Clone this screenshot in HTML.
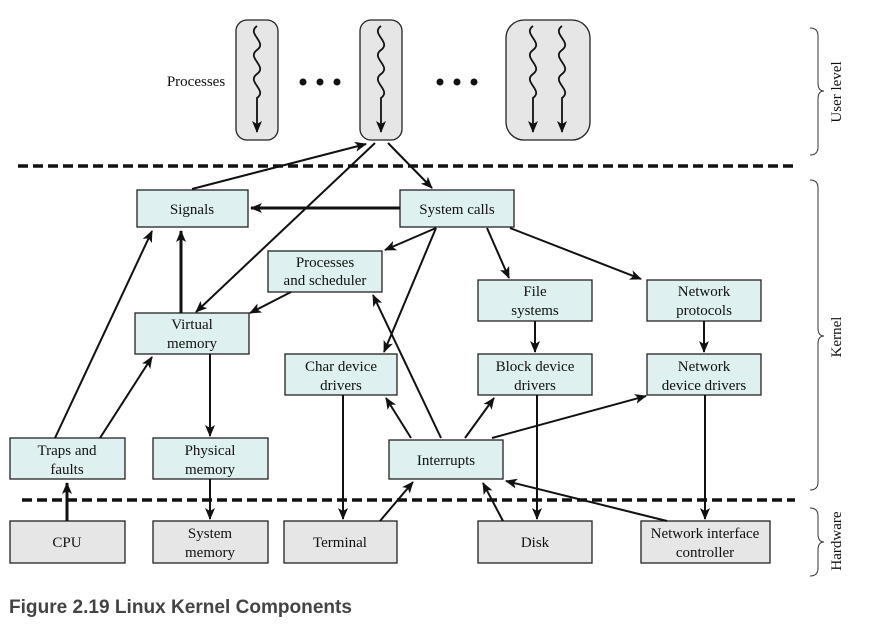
<!DOCTYPE html>
<html><head><meta charset="utf-8"><style>
body{margin:0;background:#fff;width:870px;height:631px;overflow:hidden}
svg{display:block}
.k{fill:#dff0f0;stroke:#222;stroke-width:1.3}
.h{fill:#e6e6e6;stroke:#222;stroke-width:1.3}
text{font-family:"Liberation Serif",serif;font-size:15px;fill:#111;text-anchor:middle}
.a{stroke:#111;stroke-width:2;fill:none;marker-end:url(#ar)}
.t{stroke:#111;stroke-width:3;fill:none;marker-end:url(#ar)}
</style></head><body>
<svg width="870" height="631" viewBox="0 0 870 631">
<defs><marker id="ar" markerWidth="12" markerHeight="10" refX="11" refY="5" orient="auto" markerUnits="userSpaceOnUse"><path d="M0,0 L12,5 L0,10 L3,5 z" fill="#111"/></marker></defs>
<!-- processes -->
<rect x="236" y="20" width="42" height="120" rx="11" class="h"/>
<rect x="360" y="20" width="42" height="120" rx="11" class="h"/>
<rect x="506" y="20" width="84" height="120" rx="18" class="h"/>
<g stroke="#111" stroke-width="1.8" fill="none">
<path d="M257,26 c-11,8 11,16 0,24 c-11,8 11,16 0,24 c-11,8 11,16 0,24 v34" marker-end="url(#ar)"/>
<path d="M381,26 c-11,8 11,16 0,24 c-11,8 11,16 0,24 c-11,8 11,16 0,24 v34" marker-end="url(#ar)"/>
<path d="M533,26 c-11,8 11,16 0,24 c-11,8 11,16 0,24 c-11,8 11,16 0,24 v34" marker-end="url(#ar)"/>
<path d="M562,26 c-11,8 11,16 0,24 c-11,8 11,16 0,24 c-11,8 11,16 0,24 v34" marker-end="url(#ar)"/>
</g>
<text x="196" y="86">Processes</text>
<g fill="#111"><circle cx="303" cy="82" r="3.5"/><circle cx="320" cy="82" r="3.5"/><circle cx="337" cy="82" r="3.5"/>
<circle cx="440" cy="82" r="3.5"/><circle cx="457" cy="82" r="3.5"/><circle cx="474" cy="82" r="3.5"/></g>
<!-- dashed -->
<line x1="18" y1="166" x2="795" y2="166" stroke="#111" stroke-width="3.5" stroke-dasharray="10,5"/>
<line x1="22" y1="500" x2="795" y2="500" stroke="#111" stroke-width="3.5" stroke-dasharray="10,5"/>
<!-- braces -->
<g stroke="#333" stroke-width="1" fill="none">
<path d="M810,28 q8,0 8,8 v47 q0,8 6,8 q-6,0 -6,8 v48 q0,8 -8,8"/>
<path d="M810,180 q8,0 8,8 v140 q0,8 6,8 q-6,0 -6,8 v138 q0,8 -8,8"/>
<path d="M810,508 q8,0 8,8 v18 q0,8 6,8 q-6,0 -6,8 v18 q0,8 -8,8"/>
</g>
<text transform="translate(841,92) rotate(-90)" font-size="15">User level</text>
<text transform="translate(841,337) rotate(-90)" font-size="15">Kernel</text>
<text transform="translate(841,541) rotate(-90)" font-size="15">Hardware</text>
<!-- kernel boxes -->
<rect x="137" y="190" width="111" height="37" class="k"/><text x="192" y="214">Signals</text>
<rect x="400" y="190" width="114" height="37" class="k"/><text x="457" y="214">System calls</text>
<rect x="268" y="251" width="114" height="41" class="k"/><text x="325" y="267">Processes</text><text x="325" y="285">and scheduler</text>
<rect x="135" y="313" width="114" height="41" class="k"/><text x="192" y="329">Virtual</text><text x="192" y="348">memory</text>
<rect x="478" y="280" width="114" height="41" class="k"/><text x="535" y="296">File</text><text x="535" y="315">systems</text>
<rect x="647" y="280" width="114" height="41" class="k"/><text x="704" y="296">Network</text><text x="704" y="315">protocols</text>
<rect x="285" y="354" width="112" height="41" class="k"/><text x="341" y="371">Char device</text><text x="341" y="390">drivers</text>
<rect x="478" y="354" width="114" height="41" class="k"/><text x="535" y="371">Block device</text><text x="535" y="390">drivers</text>
<rect x="647" y="354" width="114" height="41" class="k"/><text x="704" y="371">Network</text><text x="704" y="390">device drivers</text>
<rect x="10" y="438" width="115" height="41" class="k"/><text x="67" y="455">Traps and</text><text x="67" y="474">faults</text>
<rect x="153" y="438" width="115" height="41" class="k"/><text x="210" y="455">Physical</text><text x="210" y="474">memory</text>
<rect x="389" y="440" width="114" height="39" class="k"/><text x="446" y="465">Interrupts</text>
<!-- hardware -->
<rect x="10" y="521" width="115" height="42" class="h"/><text x="67" y="547">CPU</text>
<rect x="153" y="521" width="115" height="42" class="h"/><text x="210" y="538">System</text><text x="210" y="557">memory</text>
<rect x="284" y="521" width="113" height="42" class="h"/><text x="340" y="547">Terminal</text>
<rect x="478" y="521" width="114" height="42" class="h"/><text x="535" y="547">Disk</text>
<rect x="641" y="521" width="129" height="42" class="h"/><text x="705" y="538">Network interface</text><text x="705" y="557">controller</text>
<!-- arrows -->
<line x1="192" y1="189" x2="366" y2="144" class="a"/>
<line x1="375" y1="143" x2="196" y2="312" class="a"/>
<line x1="388" y1="143" x2="432" y2="188" class="a"/>
<line x1="400" y1="208" x2="251" y2="208" class="t"/>
<line x1="436" y1="228" x2="385" y2="250" class="a"/>
<line x1="436" y1="228" x2="384" y2="352" class="a"/>
<line x1="487" y1="228" x2="509" y2="278" class="a"/>
<line x1="510" y1="228" x2="641" y2="279" class="a"/>
<line x1="535" y1="321" x2="535" y2="352" class="a"/>
<line x1="704" y1="321" x2="704" y2="352" class="a"/>
<line x1="291" y1="292" x2="250" y2="313" class="a"/>
<line x1="181" y1="313" x2="181" y2="231" class="t"/>
<line x1="55" y1="438" x2="152" y2="231" class="a"/>
<line x1="100" y1="438" x2="152" y2="357" class="a"/>
<line x1="210" y1="354" x2="210" y2="436" class="a"/>
<line x1="210" y1="479" x2="210" y2="519" class="a"/>
<line x1="67" y1="521" x2="67" y2="483" class="t"/>
<line x1="343" y1="395" x2="343" y2="519" class="a"/>
<line x1="537" y1="395" x2="537" y2="519" class="a"/>
<line x1="705" y1="395" x2="705" y2="519" class="a"/>
<line x1="411" y1="438" x2="386" y2="398" class="a"/>
<line x1="441" y1="438" x2="373" y2="295" class="a"/>
<line x1="465" y1="438" x2="494" y2="398" class="a"/>
<line x1="492" y1="438" x2="646" y2="396" class="a"/>
<line x1="380" y1="521" x2="413" y2="482" class="a"/>
<line x1="503" y1="521" x2="483" y2="483" class="a"/>
<line x1="667" y1="521" x2="506" y2="481" class="a"/>
<text x="9" y="613" textLength="343" lengthAdjust="spacingAndGlyphs" style="font-family:'Liberation Sans',sans-serif;font-size:19px;font-weight:bold;fill:#444;text-anchor:start">Figure 2.19 Linux Kernel Components</text>
</svg>
</body></html>
